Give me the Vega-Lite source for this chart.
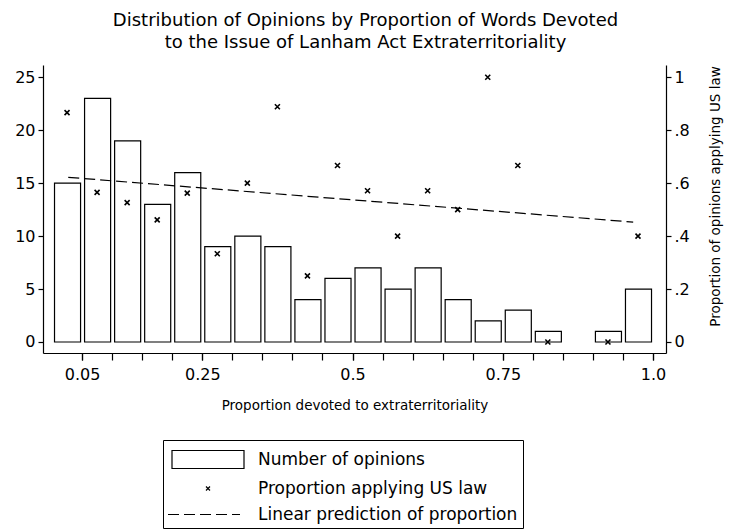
{
  "$schema": "https://vega.github.io/schema/vega-lite/v6.json",
  "autosize": {"type": "none"},
  "padding": {"left": 43, "top": 65, "right": 65, "bottom": 178},
  "width": 623,
  "height": 288,
  "background": "white",
  "title": {
    "text": ["Distribution of Opinions by Proportion of Words Devoted", "to the Issue of Lanham Act Extraterritoriality"],
    "font": "DejaVu Sans",
    "fontSize": 18,
    "fontWeight": "normal",
    "color": "black",
    "anchor": "middle",
    "dx": 11,
    "offset": 13,
    "lineHeight": 22
  },
  "datasets": {
    "bins": [
      {"bin_start": 0.0, "bin_end": 0.05, "mid": 0.025, "count": 15, "prop": 0.8667},
      {"bin_start": 0.05, "bin_end": 0.1, "mid": 0.075, "count": 23, "prop": 0.5652},
      {"bin_start": 0.1, "bin_end": 0.15, "mid": 0.125, "count": 19, "prop": 0.5263},
      {"bin_start": 0.15, "bin_end": 0.2, "mid": 0.175, "count": 13, "prop": 0.4615},
      {"bin_start": 0.2, "bin_end": 0.25, "mid": 0.225, "count": 16, "prop": 0.5625},
      {"bin_start": 0.25, "bin_end": 0.3, "mid": 0.275, "count": 9, "prop": 0.3333},
      {"bin_start": 0.3, "bin_end": 0.35, "mid": 0.325, "count": 10, "prop": 0.6},
      {"bin_start": 0.35, "bin_end": 0.4, "mid": 0.375, "count": 9, "prop": 0.8889},
      {"bin_start": 0.4, "bin_end": 0.45, "mid": 0.425, "count": 4, "prop": 0.25},
      {"bin_start": 0.45, "bin_end": 0.5, "mid": 0.475, "count": 6, "prop": 0.6667},
      {"bin_start": 0.5, "bin_end": 0.55, "mid": 0.525, "count": 7, "prop": 0.5714},
      {"bin_start": 0.55, "bin_end": 0.6, "mid": 0.575, "count": 5, "prop": 0.4},
      {"bin_start": 0.6, "bin_end": 0.65, "mid": 0.625, "count": 7, "prop": 0.5714},
      {"bin_start": 0.65, "bin_end": 0.7, "mid": 0.675, "count": 4, "prop": 0.5},
      {"bin_start": 0.7, "bin_end": 0.75, "mid": 0.725, "count": 2, "prop": 1.0},
      {"bin_start": 0.75, "bin_end": 0.8, "mid": 0.775, "count": 3, "prop": 0.6667},
      {"bin_start": 0.8, "bin_end": 0.85, "mid": 0.825, "count": 1, "prop": 0.0},
      {"bin_start": 0.9, "bin_end": 0.95, "mid": 0.925, "count": 1, "prop": 0.0},
      {"bin_start": 0.95, "bin_end": 1.0, "mid": 0.975, "count": 5, "prop": 0.4}
    ],
    "fit": [
      {"x": 0.027, "pred": 0.622},
      {"x": 0.967, "pred": 0.453}
    ],
    "legend": [
      {"series": "Number of opinions", "lx": -5, "ly": 0.5},
      {"series": "Proportion applying US law", "lx": -5, "ly": 0.5},
      {"series": "Linear prediction of proportion", "lx": -5, "ly": 0.5}
    ]
  },
  "config": {
    "view": {"stroke": null},
    "axis": {
      "grid": false,
      "domainColor": "black",
      "domainWidth": 1.2,
      "tickColor": "black",
      "tickWidth": 1.2,
      "labelColor": "black",
      "titleColor": "black",
      "labelFont": "DejaVu Sans",
      "titleFont": "DejaVu Sans",
      "titleFontWeight": "normal",
      "labelOverlap": false,
      "labelFlush": false
    },
    "legend": {
      "orient": "none",
      "legendX": 120,
      "legendY": 375,
      "strokeColor": "black",
      "fillColor": "white",
      "padding": 5,
      "cornerRadius": 0,
      "labelFont": "DejaVu Sans",
      "labelFontSize": 17,
      "labelColor": "black",
      "labelLimit": 400,
      "labelOffset": 73,
      "symbolSize": 100,
      "symbolStrokeWidth": 1.2,
      "symbolStrokeColor": "black",
      "rowPadding": 8,
      "titleFontSize": 3,
      "titlePadding": 3
    }
  },
  "layer": [
    {
      "data": {"name": "bins"},
      "mark": {"type": "bar", "fill": "white", "stroke": "black", "strokeWidth": 1.2, "binSpacing": 4},
      "encoding": {
        "x": {
          "field": "bin_start",
          "type": "quantitative",
          "bin": "binned",
          "scale": {"domain": [-0.015, 1.0216], "nice": false, "zero": false},
          "axis": {
            "orient": "bottom",
            "title": null,
            "labels": false,
            "values": [0.05, 0.1, 0.15, 0.2, 0.25, 0.3, 0.35, 0.4, 0.45, 0.5, 0.55, 0.6, 0.65, 0.7, 0.75, 0.8, 0.85, 0.9, 0.95, 1.0],
            "tickSize": 7
          }
        },
        "x2": {"field": "bin_end"},
        "y": {
          "field": "count",
          "type": "quantitative",
          "scale": {"domain": [-1.04, 26.16], "nice": false, "zero": false},
          "axis": {
            "title": null,
            "values": [0, 5, 10, 15, 20, 25],
            "labelFontSize": 16,
            "tickSize": 5,
            "labelPadding": 3
          }
        },
        "y2": {"datum": 0}
      }
    },
    {
      "layer": [
        {
          "data": {"name": "fit"},
          "mark": {"type": "line", "color": "black", "strokeWidth": 1.2, "strokeDash": [11, 5]},
          "encoding": {
            "x": {
              "field": "x",
              "type": "quantitative",
              "axis": {
                "orient": "bottom",
                "domain": false,
                "title": "Proportion devoted to extraterritoriality",
                "titleFontSize": 13.5,
                "titlePadding": 16,
                "values": [0.05, 0.25, 0.5, 0.75, 1.0],
                "labelExpr": "datum.value == 0.05 ? '0.05' : datum.value == 0.25 ? '0.25' : datum.value == 0.5 ? '0.5' : datum.value == 0.75 ? '0.75' : '1.0'",
                "labelOverlap": false,
                "labelFontSize": 16,
                "tickSize": 7,
                "labelPadding": 6
              }
            },
            "y": {
              "field": "pred",
              "type": "quantitative",
              "scale": {"domain": [-0.0416, 1.0464], "nice": false, "zero": false},
              "axis": {
                "orient": "right",
                "title": "Proportion of opinions applying US law",
                "titleFontSize": 13.5,
                "titleAngle": 270,
                "titleX": 49,
                "titleY": 131,
                "titleAlign": "center",
                "titleBaseline": "middle",
                "values": [0, 0.2, 0.4, 0.6, 0.8, 1],
                "labelExpr": "datum.value == 0 ? '0' : datum.value >= 0.999 ? '1' : replace(format(datum.value, '.1f'), '0.', '.')",
                "labelFontSize": 16,
                "tickSize": 5,
                "labelPadding": 3
              }
            }
          }
        },
        {
          "data": {"name": "bins"},
          "mark": {"type": "point", "shape": "M-1,-1L1,1M-1,1L1,-1", "size": 25, "filled": false, "color": "black", "strokeWidth": 1.6, "opacity": 1},
          "encoding": {
            "x": {"field": "mid", "type": "quantitative"},
            "y": {"field": "prop", "type": "quantitative"}
          }
        },
        {
          "data": {"name": "legend"},
          "mark": {"type": "point", "filled": false, "color": "black", "strokeWidth": 1.2, "clip": true, "opacity": 1},
          "encoding": {
            "x": {"field": "lx", "type": "quantitative"},
            "y": {"field": "ly", "type": "quantitative"},
            "shape": {
              "field": "series",
              "type": "nominal",
              "scale": {
                "domain": ["Number of opinions", "Proportion applying US law", "Linear prediction of proportion"],
                "range": [
                  "M-0.9,-1.8H13.5V1.8H-0.9Z",
                  "M5.9,-0.4L6.7,0.4M5.9,0.4L6.7,-0.4",
                  "M-1.7,0H0.5M1.5,0H3.7M4.7,0H6.9M7.9,0H10.1M11.1,0H12.7"
                ]
              },
              "legend": {"title": " "}
            }
          }
        }
      ]
    }
  ],
  "resolve": {"scale": {"y": "independent"}, "axis": {"x": "independent"}}
}
